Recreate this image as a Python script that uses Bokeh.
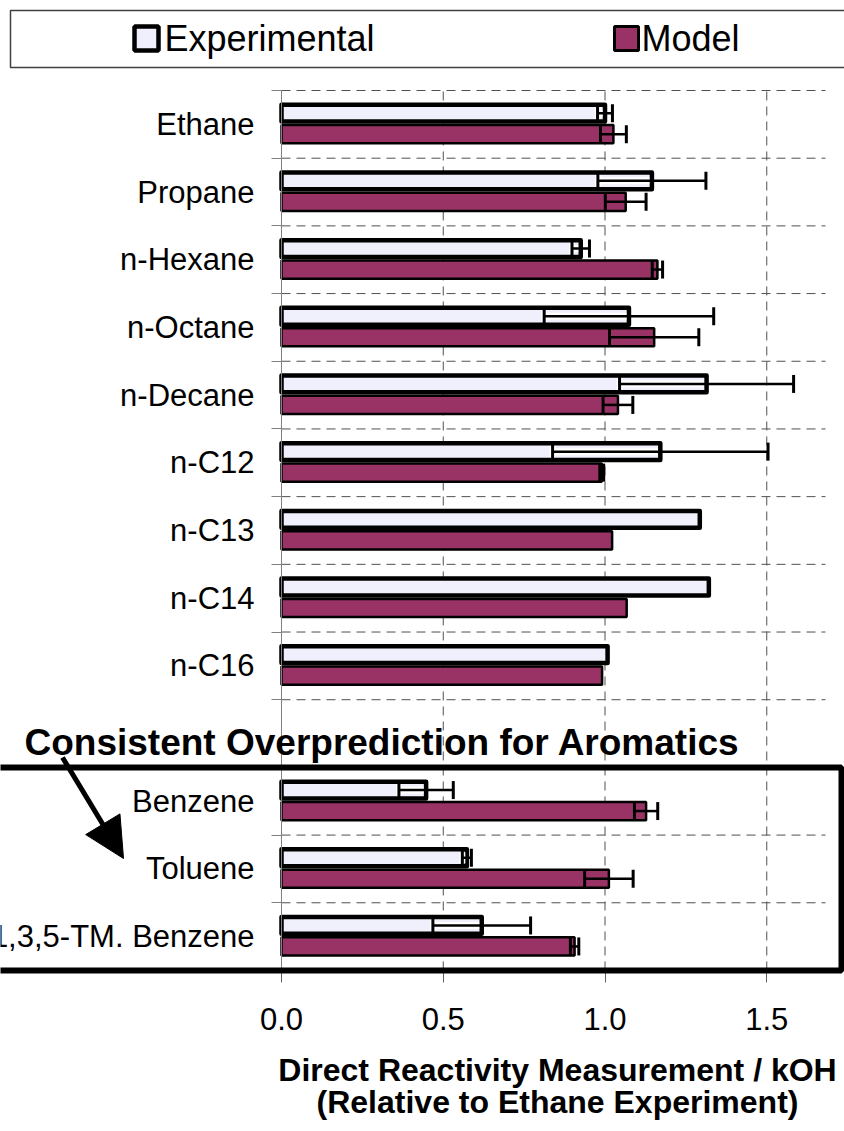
from bokeh.plotting import figure
from bokeh.models import (Range1d, FixedTicker, NumeralTickFormatter, ColumnDataSource,
                          Label, Whisker, TeeHead, BoxAnnotation, Arrow, NormalHead)
from bokeh.embed import file_html
from bokeh.resources import INLINE

# ---------------- data ----------------
alkanes = ["Ethane", "Propane", "n-Hexane", "n-Octane", "n-Decane",
           "n-C12", "n-C13", "n-C14", "n-C16"]
aromatics = ["Benzene", "Toluene", "1,3,5-TM. Benzene"]
experimental = [1.000, 1.145, 0.925, 1.074, 1.314, 1.171, 1.293, 1.321, 1.008,
                0.447, 0.573, 0.619]
experimental_err = [0.023, 0.167, 0.027, 0.262, 0.269, 0.333, 0.0, 0.0, 0.0,
                    0.084, 0.014, 0.151]
model = [1.026, 1.064, 1.162, 1.152, 1.040, 0.990, 1.022, 1.067, 0.991,
         1.127, 1.012, 0.906]
model_err = [0.040, 0.063, 0.016, 0.138, 0.046, 0.006, 0.0, 0.0, 0.0,
             0.036, 0.075, 0.013]
x_ticks = [0.0, 0.5, 1.0, 1.5]
legend_labels = ["Experimental", "Model"]
annotation_text = "Consistent Overprediction for Aromatics"
x_title = ["Direct Reactivity Measurement / kOH", "(Relative to Ethane Experiment)"]

# ---------------- style / layout ----------------
EXP_FILL = "#F0F0FC"
MODEL_FILL = "#993366"
GRID = "#505050"
FONT = "Liberation Sans"

W, H = 844, 1131
OFF = 0                 # page offset of the canvas
X_MAX = 1.6816          # right end of the plotting area
PX_X0, PX_UNIT = 281.0, 323.5   # page px of x=0, px per x unit
PX_TOP, PX_SLOT = 90.0, 67.69   # page px of top of the plotting area, px per slot

categories = alkanes + aromatics
slots = list(range(len(alkanes))) + [len(alkanes) + 1 + j for j in range(len(aromatics))]
NS = len(alkanes) + 1 + len(aromatics)


def X(px):
    return (px - PX_X0) / PX_UNIT


def Y(py):
    return NS - (py - PX_TOP) / PX_SLOT


p = figure(width=W, height=H, x_range=Range1d(X(OFF), X(OFF + W)),
           y_range=Range1d(Y(OFF + H), Y(OFF)),
           output_backend="svg", toolbar_location=None, min_border=0)
p.outline_line_color = None
p.background_fill_color = "white"
p.border_fill_color = "white"
p.grid.visible = False

# grid lines (dashed) limited to the plotting area
bounds = list(range(NS + 1))
p.segment(x0=[0] * len(bounds), y0=bounds, x1=[X_MAX] * len(bounds), y1=bounds,
          line_color=GRID, line_dash="9 6", line_width=1)
vt = [t for t in x_ticks if t > 0]
p.segment(x0=vt, y0=[0] * len(vt), x1=vt, y1=[NS] * len(vt),
          line_color=GRID, line_dash="9 6", line_width=1)

exp_y = [NS - s - 0.335 for s in slots]
mod_y = [NS - s - 0.645 for s in slots]

p.hbar(y=exp_y, left=0, right=experimental, height=0.248, fill_color=EXP_FILL,
       line_color="black", line_width=4.5, line_join="round")
p.hbar(y=mod_y, left=0, right=model, height=0.269, fill_color=MODEL_FILL,
       line_color="black", line_width=2.5)

# error bars
ei = [i for i, e in enumerate(experimental_err) if e > 0]
mi = [i for i, e in enumerate(model_err) if e > 0]
src_e = ColumnDataSource(dict(
    y=[exp_y[i] for i in ei],
    lo=[experimental[i] - experimental_err[i] for i in ei],
    hi=[experimental[i] + experimental_err[i] for i in ei],
    inner=[experimental[i] - 0.008 for i in ei]))
src_m = ColumnDataSource(dict(
    y=[mod_y[i] for i in mi],
    lo=[model[i] - model_err[i] for i in mi],
    hi=[model[i] + model_err[i] for i in mi]))

halo = Whisker(source=src_e, base="y", lower="lo", upper="inner", dimension="width",
               line_color="white", line_width=7, upper_head=None,
               lower_head=TeeHead(size=11, line_color="white", line_width=6), level="annotation")
p.add_layout(halo)
for src in (src_e, src_m):
    w = Whisker(source=src, base="y", lower="lo", upper="hi", dimension="width",
                line_color="black", line_width=2.5,
                upper_head=TeeHead(size=18, line_color="black", line_width=3),
                lower_head=TeeHead(size=18, line_color="black", line_width=3),
                level="annotation")
    p.add_layout(w)

# axes drawn at fixed locations inside the canvas
centers = [NS - s - 0.5 for s in slots]
yax = p.yaxis[0]
yax.fixed_location = 0
yax.bounds = (0, NS)
yax.ticker = FixedTicker(ticks=centers, minor_ticks=bounds)
yax.major_label_overrides = {c: name for c, name in zip(centers, categories)}
yax.major_label_text_font = FONT
yax.major_label_text_font_size = "31px"
yax.major_label_text_color = "black"
yax.major_label_standoff = 17
yax.major_tick_out = 0
yax.major_tick_in = 0
yax.major_tick_line_color = None
yax.minor_tick_out = 10
yax.minor_tick_in = 0
yax.minor_tick_line_color = "#808080"
yax.axis_line_color = "#808080"

xax = p.xaxis[0]
xax.fixed_location = 0
xax.bounds = (0, X_MAX)
xax.ticker = FixedTicker(ticks=x_ticks)
xax.formatter = NumeralTickFormatter(format="0.0")
xax.major_label_text_font = FONT
xax.major_label_text_font_size = "31px"
xax.major_label_text_color = "black"
xax.major_label_standoff = 26
xax.major_tick_out = 12
xax.major_tick_in = 0
xax.minor_tick_line_color = None
xax.axis_line_color = "#808080"
xax.major_tick_line_color = "#606060"

# aromatics box + annotation
p.add_layout(BoxAnnotation(left=X(-30), right=X(841), top=NS - (len(alkanes) + 1), bottom=0,
                           fill_color=None, fill_alpha=0, line_color="black", line_alpha=1,
                           line_width=6))
p.add_layout(Label(x=X(24), y=Y(742), text=annotation_text, text_align="left",
                   text_baseline="middle", text_font=FONT, text_font_style="bold",
                   text_font_size="37px", text_color="black"))
p.add_layout(Arrow(x_start=X(62), y_start=Y(757), x_end=X(123), y_end=Y(858),
                   line_width=5, line_color="black",
                   end=NormalHead(size=40, fill_color="black", line_color="black")))

# x title
for t, py in zip(x_title, (1069, 1101)):
    p.add_layout(Label(x=X(557), y=Y(py), text=t, text_align="center",
                       text_baseline="middle", text_font=FONT, text_font_style="bold",
                       text_font_size="32px", text_color="black"))

# legend
p.add_layout(BoxAnnotation(left=X(10), right=X(880), top=Y(10), bottom=Y(67),
                           fill_color="white", fill_alpha=1, line_color="#404040", line_alpha=1,
                           line_width=1.5))
mk = [(146, EXP_FILL, 4.5, 164), (626, MODEL_FILL, 3, 641)]
for (cx, fc, lw, tx), name in zip(mk, legend_labels):
    p.add_layout(BoxAnnotation(left=X(cx - 12), right=X(cx + 12), top=Y(26), bottom=Y(50),
                               fill_color=fc, fill_alpha=1, line_color="black", line_alpha=1,
                               line_width=lw))
    p.add_layout(Label(x=X(tx), y=Y(38), text=name, text_align="left",
                       text_baseline="middle", text_font=FONT, text_font_size="36px",
                       text_color="black"))

open("out.html", "w").write(file_html(p, INLINE))
